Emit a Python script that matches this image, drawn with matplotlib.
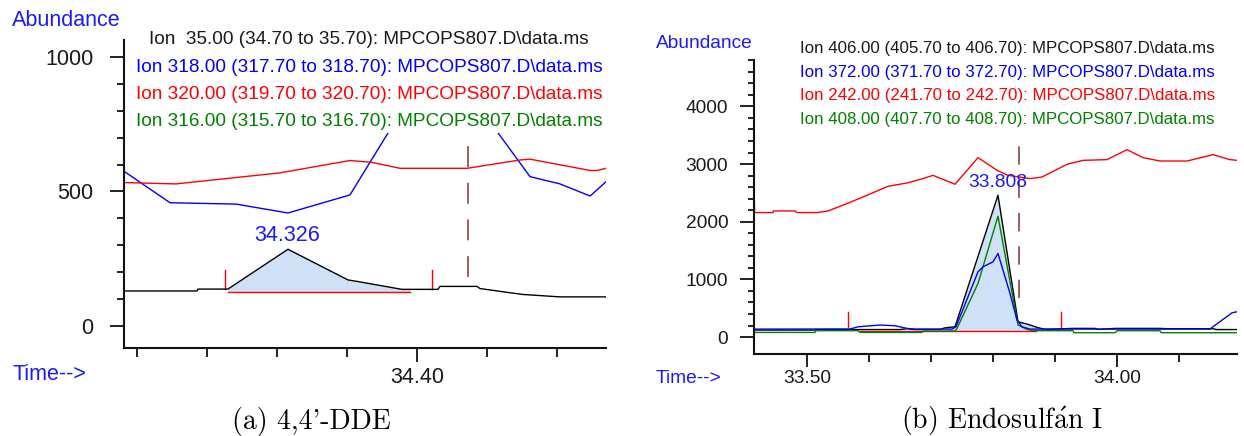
import matplotlib
matplotlib.use("Agg")
import matplotlib.pyplot as plt
import numpy as np
from matplotlib.patches import Rectangle
from matplotlib.ticker import FixedLocator, FixedFormatter

plt.rcParams['font.family'] = ['Liberation Sans', 'DejaVu Sans']
plt.rcParams['mathtext.fontset'] = 'cm'

W, H = 1244, 436

# ---------------- (a) 4,4'-DDE ----------------
a_legend = [
    "Ion  35.00 (34.70 to 35.70): MPCOPS807.D\\data.ms",
    "Ion 318.00 (317.70 to 318.70): MPCOPS807.D\\data.ms",
    "Ion 320.00 (319.70 to 320.70): MPCOPS807.D\\data.ms",
    "Ion 316.00 (315.70 to 316.70): MPCOPS807.D\\data.ms",
]
a_t_ion35 = [34.2326, 34.2743, 34.2749, 34.2920, 34.3263, 34.3606, 34.3663, 34.3914,
             34.4120, 34.4131, 34.4343, 34.4360, 34.4514, 34.4606, 34.4817, 34.5080]
a_ion35 = [130, 130, 137, 137, 285, 171, 165, 136, 136, 147, 147, 139, 125, 117, 108, 108]

a_t_ion318 = [34.2326, 34.2589, 34.2966, 34.3263, 34.3617, 34.3960, 34.4303,
              34.4646, 34.4817, 34.4989, 34.5080]
a_ion318 = [575, 458, 453, 420, 487, 850, 860, 555, 528, 483, 536]

a_t_ion320 = [34.2326, 34.2623, 34.3217, 34.3617, 34.3743, 34.3903, 34.4286,
              34.4589, 34.4646, 34.4834, 34.4989, 34.5029, 34.5080]
a_ion320 = [533, 528, 569, 615, 608, 586, 586, 617, 620, 597, 578, 578, 586]

a_peak_rt = 34.326
a_peak_label = "34.326"
a_base_t = [34.2920, 34.3960]
a_base_v = 128
a_marker_t = [34.2903, 34.4086]
a_marker_v = [136, 208]
a_rt_marker_t = 34.4291
a_rt_marker_v = [182, 1000]
a_xlim = (34.2326, 34.5080)
a_ylim = (-82, 1063)
a_xmajor = [34.40]
a_xmajor_labels = ["34.40"]
a_xminor = [34.24, 34.28, 34.32, 34.36, 34.44, 34.48]
a_ymajor = [0, 500, 1000]
a_ymajor_labels = ["0", "500", "1000"]
a_yminor = [100, 200, 300, 400, 600, 700, 800, 900]
a_caption = "(a) 4,4'-DDE"

# ---------------- (b) Endosulfan I ----------------
b_legend = [
    "Ion 406.00 (405.70 to 406.70): MPCOPS807.D\\data.ms",
    "Ion 372.00 (371.70 to 372.70): MPCOPS807.D\\data.ms",
    "Ion 242.00 (241.70 to 242.70): MPCOPS807.D\\data.ms",
    "Ion 408.00 (407.70 to 408.70): MPCOPS807.D\\data.ms",
]
b_t_ion406 = [33.4145, 33.5129, 33.5145, 33.6500, 33.6613, 33.6742, 33.7145, 33.7226,
              33.7387, 33.8080, 33.8403, 33.8548, 33.8710, 33.8839, 33.9290, 33.9645,
              33.9700, 33.9968, 34.0694, 34.0800, 34.1548, 34.1600, 34.1935]
b_ion406 = [121, 121, 130, 130, 145, 130, 133, 160, 178, 2459, 265, 225, 168, 133,
            150, 150, 133, 150, 150, 145, 145, 130, 130]

b_t_ion372 = [33.4145, 33.5694, 33.5823, 33.6177, 33.6419, 33.6613, 33.6742, 33.7339,
              33.7403, 33.7758, 33.7839, 33.8000, 33.8080, 33.8274, 33.8387, 33.8468,
              33.8597, 34.1500, 34.1548, 34.1855, 34.1935]
b_ion372 = [138, 140, 178, 208, 196, 150, 138, 138, 178, 1131, 1218, 1305, 1449, 757,
            294, 178, 138, 138, 178, 421, 438]

b_t_ion242 = [33.4145, 33.4155, 33.4452, 33.4458, 33.4806, 33.4839, 33.5161, 33.5339,
              33.5645, 33.5968, 33.6306, 33.6613, 33.6871, 33.7032, 33.7387, 33.7758,
              33.8065, 33.8242, 33.8597, 33.8790, 33.9194, 33.9452, 33.9839, 34.0161,
              34.0419, 34.0694, 34.1129, 34.1548, 34.1823, 34.1935]
b_ion242 = [2540, 2159, 2159, 2187, 2187, 2159, 2159, 2187, 2315, 2459, 2615, 2672,
            2748, 2805, 2650, 3112, 2892, 2805, 2748, 2776, 2996, 3065, 3077, 3250,
            3112, 3053, 3053, 3163, 3077, 3065]

b_t_ion408 = [33.4145, 33.5129, 33.5145, 33.5823, 33.5855, 33.6855, 33.6871, 33.7387,
              33.7419, 33.7758, 33.8080, 33.8403, 33.8548, 33.8645, 33.9290, 33.9306,
              33.9968, 34.0000, 34.0694, 34.0710, 34.1935]
b_ion408 = [80, 80, 110, 110, 80, 80, 105, 105, 150, 930, 2095, 208, 133, 110, 110,
            75, 75, 110, 110, 75, 75]

b_peak_rt = 33.808
b_peak_label = "33.808"
b_base_t = [33.5855, 33.8694]
b_base_v = 105
b_fill_t = [33.7226, 33.8710]
b_marker_t = [33.5661, 33.9097]
b_marker_v = [173, 433]
b_rt_marker_t = 33.8419
b_rt_marker_v = [675, 3411]
b_xlim = (33.4145, 34.1935)
b_ylim = (-294, 4805)
b_xmajor = [33.50, 34.00]
b_xmajor_labels = ["33.50", "34.00"]
b_xminor = [33.6, 33.7, 33.8, 33.9, 34.1]
b_ymajor = [0, 1000, 2000, 3000, 4000]
b_ymajor_labels = ["0", "1000", "2000", "3000", "4000"]
b_yminor = [v for v in range(200, 4801, 200) if v % 1000 != 0]
b_caption = "(b) Endosulf$\\acute{\\mathrm{a}}$n I"

BLUE = '#0000ff'
RED = '#ff0000'
GREEN = '#008000'
BLACK = '#000000'
TXT = '#1a1a1a'
LABEL_BLUE = '#1a1aff'
FILL = '#cfe1f7'
RT_MARK = '#8a4444'

fig = plt.figure(figsize=(W / 100, H / 100), dpi=100)


def px_axes(x0, y0, x1, y1):
    return fig.add_axes([x0 / W, 1 - y1 / H, (x1 - x0) / W, (y1 - y0) / H])


def fx(x):
    return x / W


def fy(y):
    return 1 - y / H


def style(ax, xlim, ylim, xmaj, xlab, xmin, ymaj, ylab, ymin, size,
          ymajlen, yminlen, ypad, xmajlen, xminlen, xpad):
    ax.set_xlim(xlim)
    ax.set_ylim(ylim)
    ax.set_facecolor('none')
    for s in ('top', 'right'):
        ax.spines[s].set_visible(False)
    for s in ('left', 'bottom'):
        ax.spines[s].set_linewidth(1.5)
        ax.spines[s].set_color('#111111')
    ax.xaxis.set_major_locator(FixedLocator(xmaj))
    ax.xaxis.set_major_formatter(FixedFormatter(xlab))
    ax.xaxis.set_minor_locator(FixedLocator(xmin))
    ax.yaxis.set_major_locator(FixedLocator(ymaj))
    ax.yaxis.set_major_formatter(FixedFormatter(ylab))
    ax.yaxis.set_minor_locator(FixedLocator(ymin))
    ax.tick_params(axis='both', which='both', direction='out', width=1.3,
                   color='#111111', labelsize=size, labelcolor=TXT)
    ax.tick_params(axis='y', which='major', length=ymajlen, pad=ypad)
    ax.tick_params(axis='y', which='minor', length=yminlen)
    ax.tick_params(axis='x', which='major', length=xmajlen, pad=xpad)
    ax.tick_params(axis='x', which='minor', length=xminlen)


LW = 1.0

# ---------- panel (a) ----------
axa = px_axes(124, 40, 606, 348)
style(axa, a_xlim, a_ylim, a_xmajor, a_xmajor_labels, a_xminor,
      a_ymajor, a_ymajor_labels, a_yminor, 15.5,
      10, 5, 12, 10, 6.5, 3.6)

ta = np.linspace(a_base_t[0], a_base_t[1], 200)
axa.fill_between(ta, np.interp(ta, a_t_ion35, a_ion35), a_base_v,
                 color=FILL, lw=0, zorder=1)
axa.plot(a_base_t, [a_base_v, a_base_v], color=RED, lw=LW, zorder=1.5)
for t in a_marker_t:
    axa.plot([t, t], a_marker_v, color=RED, lw=LW, zorder=1.5)
axa.plot([a_rt_marker_t, a_rt_marker_t], a_rt_marker_v, color=RT_MARK, lw=1.2,
         ls=(0, (12.5, 9.5)), zorder=1.6)
axa.plot(a_t_ion35, a_ion35, color=BLACK, lw=LW, zorder=2)
axa.plot(a_t_ion318, a_ion318, color=BLUE, lw=LW, zorder=2.1)
axa.plot(a_t_ion320, a_ion320, color=RED, lw=LW, zorder=2.2)
axa.text(a_peak_rt, np.interp(a_peak_rt, a_t_ion35, a_ion35) + 53, a_peak_label,
         color=LABEL_BLUE, fontsize=15.5, ha='center', va='center', zorder=3)

# legend area hides the traces above it
box_bottom = (348 - 133) / (348 - 40)
axa.add_patch(Rectangle((0.005, box_bottom), 0.995, 1.2 - box_bottom,
                        transform=axa.transAxes, facecolor='white',
                        edgecolor='none', zorder=4, clip_on=False))
for i, (txt, col) in enumerate(zip(a_legend, [TXT, BLUE, RED, GREEN])):
    fig.text(fx(369), fy(40 + 27 * i), txt, color=col, fontsize=13.7,
             ha='center', va='center', zorder=6)

fig.text(fx(12), fy(21), "Abundance", color=LABEL_BLUE, fontsize=15.5,
         ha='left', va='center')
fig.text(fx(12), fy(374), "Time-->", color=LABEL_BLUE, fontsize=15.5,
         ha='left', va='center')

# ---------- panel (b) ----------
axb = px_axes(754, 60, 1237, 354)
style(axb, b_xlim, b_ylim, b_xmajor, b_xmajor_labels, b_xminor,
      b_ymajor, b_ymajor_labels, b_yminor, 13.8,
      10, 4.3, 8.6, 9.4, 5.8, 2.2)

tb = np.linspace(b_fill_t[0], b_fill_t[1], 300)
axb.fill_between(tb, np.interp(tb, b_t_ion406, b_ion406), b_base_v,
                 color=FILL, lw=0, zorder=1)
axb.plot(b_base_t, [b_base_v, b_base_v], color=RED, lw=LW, zorder=1.5)
for t in b_marker_t:
    axb.plot([t, t], b_marker_v, color=RED, lw=LW, zorder=1.5)
axb.plot([b_rt_marker_t, b_rt_marker_t], b_rt_marker_v, color=RT_MARK, lw=1.2,
         ls=(0, (11, 9)), zorder=1.6)
axb.plot(b_t_ion406, b_ion406, color=BLACK, lw=LW, zorder=2)
axb.plot(b_t_ion408, b_ion408, color=GREEN, lw=LW, zorder=2.1)
axb.plot(b_t_ion372, b_ion372, color=BLUE, lw=LW, zorder=2.2)
axb.plot(b_t_ion242, b_ion242, color=RED, lw=LW, zorder=2.3)
axb.text(b_peak_rt, np.interp(b_peak_rt, b_t_ion406, b_ion406) + 230, b_peak_label,
         color=LABEL_BLUE, fontsize=13.9, ha='center', va='center', zorder=3)

for i, (txt, col) in enumerate(zip(b_legend, [TXT, BLUE, RED, GREEN])):
    fig.text(fx(800), fy(49 + 23.4 * i), txt, color=col, fontsize=12.2,
             ha='left', va='center')

fig.text(fx(656), fy(43), "Abundance", color=LABEL_BLUE, fontsize=13.8,
         ha='left', va='center')
fig.text(fx(656), fy(378), "Time-->", color=LABEL_BLUE, fontsize=13.8,
         ha='left', va='center')

# ---------- captions ----------
fig.text(fx(311), fy(421), a_caption, family='cmr10', fontsize=20,
         ha='center', va='center', color='black')
fig.text(fx(1002), fy(421), b_caption, family='cmr10', fontsize=20,
         ha='center', va='center', color='black')

fig.savefig("out.png", dpi=100, facecolor='white')
